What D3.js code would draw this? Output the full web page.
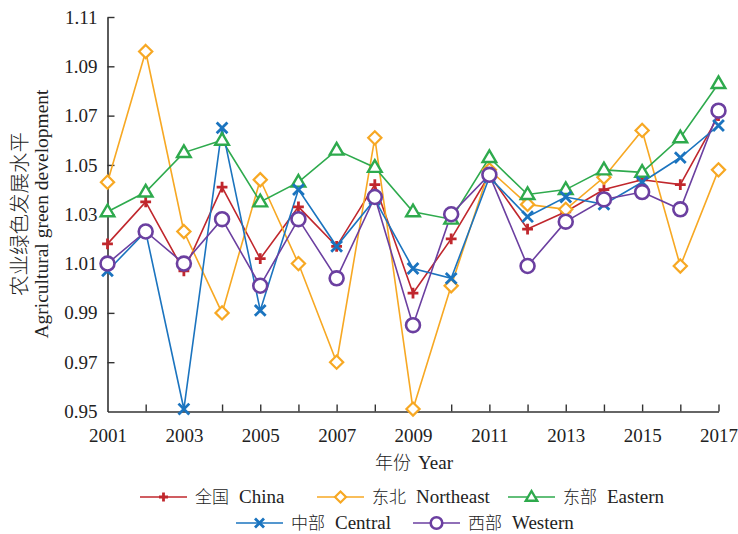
<!DOCTYPE html>
<html>
<head>
<meta charset="utf-8">
<script src="https://cdn.jsdelivr.net/npm/d3@7/dist/d3.min.js"></script>
<style>
  html, body { margin: 0; padding: 0; background: #fff; }
  svg { display: block; }
  text { font-family: "Liberation Serif", "Times New Roman", "Noto Sans CJK SC", serif; fill: #222; }
  .cjk { font-family: "Noto Sans CJK SC", sans-serif; font-weight: 300; }
</style>
</head>
<body>
<svg id="chart" width="738" height="534"></svg>
<script>
// Agricultural green development level by region, 2001–2017
const years = d3.range(2001, 2018);
const yTicks = [0.95, 0.97, 0.99, 1.01, 1.03, 1.05, 1.07, 1.09, 1.11];
const xLabelYears = [2001, 2003, 2005, 2007, 2009, 2011, 2013, 2015, 2017];

const china     = [1.018, 1.035, 1.007, 1.041, 1.012, 1.033, 1.017, 1.042, 0.998, 1.020, 1.046, 1.024, 1.031, 1.040, 1.044, 1.042, 1.070];
const northeast = [1.043, 1.096, 1.023, 0.990, 1.044, 1.010, 0.970, 1.061, 0.951, 1.001, 1.048, 1.034, 1.032, 1.045, 1.064, 1.009, 1.048];
const eastern   = [1.031, 1.039, 1.055, 1.060, 1.035, 1.043, 1.056, 1.049, 1.031, 1.028, 1.053, 1.038, 1.040, 1.048, 1.047, 1.061, 1.083];
const central   = [1.007, 1.023, 0.951, 1.065, 0.991, 1.040, 1.017, 1.036, 1.008, 1.004, 1.045, 1.029, 1.037, 1.034, 1.043, 1.053, 1.066];
const western   = [1.010, 1.023, 1.010, 1.028, 1.001, 1.028, 1.004, 1.037, 0.985, 1.030, 1.046, 1.009, 1.027, 1.036, 1.039, 1.032, 1.072];

const seriesZh = ["全国", "东北", "东部", "中部", "西部"];
const seriesEn = ["China", "Northeast", "Eastern", "Central", "Western"];
const seriesValues = [china, northeast, eastern, central, western];
const seriesColors = ["#c0272d", "#f7a823", "#2eaa4d", "#1b74bf", "#6b3fa0"];
const seriesMarkers = ["plus", "diamond", "triangle", "cross", "circle"];

const svg = d3.select("#chart");
const x = d3.scaleLinear().domain([2001, 2017]).range([107.5, 718.5]);
const y = d3.scaleLinear().domain([0.95, 1.11]).range([411.5, 17]);

// axes: left and bottom, ticks pointing inward
const axisColor = "#333";
const yAxis = svg.append("g").attr("transform", `translate(${x.range()[0]},0)`)
  .call(d3.axisLeft(y).tickValues(yTicks).tickSizeInner(-7).tickSizeOuter(0).tickPadding(10).tickFormat(d3.format(".2f")));
const xAxis = svg.append("g").attr("transform", `translate(0,${y.range()[0]})`)
  .call(d3.axisBottom(x).tickValues(years).tickSizeInner(-7).tickSizeOuter(0).tickPadding(17)
    .tickFormat(d => xLabelYears.includes(d) ? String(d) : ""));
[yAxis, xAxis].forEach(g => {
  g.select(".domain").attr("stroke", axisColor).attr("stroke-width", 1.6);
  g.selectAll(".tick line").attr("stroke", axisColor).attr("stroke-width", 1.4);
  g.selectAll(".tick text").attr("font-size", 19).attr("fill", "#222")
    .attr("font-family", "'Liberation Serif', serif");
});
// the corner ticks coincide with the other axis
xAxis.selectAll(".tick line").filter(d => d === 2001).remove();
yAxis.selectAll(".tick line").filter(d => d === 0.95).remove();

// bilingual label helper: Chinese part, then English part
function bilingual(sel, zh, en, zhSize, enSize, gap) {
  sel.append("tspan").attr("class", "cjk").attr("font-size", zhSize).text(zh);
  sel.append("tspan").attr("dx", gap).attr("font-size", enSize).text(en);
  return sel;
}

// axis titles
bilingual(svg.append("text").attr("x", 414).attr("y", 469).attr("text-anchor", "middle"),
  "年份", "Year", 18, 19, 7);
const yTitle = svg.append("g").attr("transform", "translate(0,214) rotate(-90)");
yTitle.append("text").attr("class", "cjk").attr("x", 0).attr("y", 27).attr("text-anchor", "middle")
  .attr("font-size", 20.5).text("农业绿色发展水平");
yTitle.append("text").attr("x", 0).attr("y", 48).attr("text-anchor", "middle")
  .attr("font-size", 19.5).text("Agricultural green development");

// marker drawing
function drawMarker(g, kind, color, size) {
  const s = size;
  if (kind === "circle") {
    g.append("circle").attr("r", s * 0.58).attr("fill", "#fff").attr("stroke", color).attr("stroke-width", 2.6);
  } else if (kind === "diamond") {
    const r = s * 0.55;
    g.append("path").attr("d", `M0,${-r}L${r},0L0,${r}L${-r},0Z`).attr("fill", "#fff").attr("stroke", color).attr("stroke-width", 2.2);
  } else if (kind === "triangle") {
    const r = s * 0.6;
    g.append("path").attr("d", `M0,${-r}L${r * 0.95},${r * 0.62}L${-r * 0.95},${r * 0.62}Z`).attr("fill", "#fff").attr("stroke", color).attr("stroke-width", 2.4);
  } else if (kind === "cross") {
    const r = s * 0.45;
    g.append("path").attr("d", `M${-r},${-r}L${r},${r}M${-r},${r}L${r},${-r}`).attr("stroke", color).attr("stroke-width", 2.8).attr("fill", "none");
  } else if (kind === "plus") {
    const r = s * 0.45;
    g.append("path").attr("d", `M${-r},0L${r},0M0,${-r}L0,${r}`).attr("stroke", color).attr("stroke-width", 2.8).attr("fill", "none");
  }
}

const line = d3.line().x((d, i) => x(years[i])).y(d => y(d));
const plot = svg.append("g");
seriesValues.forEach((vals, k) => {
  plot.append("path").datum(vals).attr("d", line).attr("fill", "none")
    .attr("stroke", seriesColors[k]).attr("stroke-width", 1.6);
});
seriesValues.forEach((vals, k) => {
  vals.forEach((v, i) => {
    const g = plot.append("g").attr("transform", `translate(${x(years[i])},${y(v)})`);
    drawMarker(g, seriesMarkers[k], seriesColors[k], 12);
  });
});

// legend (two rows)
const legendItems = [
  { k: 0, x: 140, y: 497 }, { k: 1, x: 317, y: 497 }, { k: 2, x: 508, y: 497 },
  { k: 3, x: 236, y: 523 }, { k: 4, x: 413, y: 523 }
];
legendItems.forEach(it => {
  const g = svg.append("g").attr("transform", `translate(${it.x},${it.y})`);
  g.append("line").attr("x1", 0).attr("x2", 47).attr("y1", 0).attr("y2", 0)
    .attr("stroke", seriesColors[it.k]).attr("stroke-width", 1.6);
  const m = g.append("g").attr("transform", "translate(23.5,0)");
  drawMarker(m, seriesMarkers[it.k], seriesColors[it.k], 10);
  bilingual(g.append("text").attr("x", 55).attr("y", 6), seriesZh[it.k], seriesEn[it.k], 17, 19, 10);
});
</script>
</body>
</html>
